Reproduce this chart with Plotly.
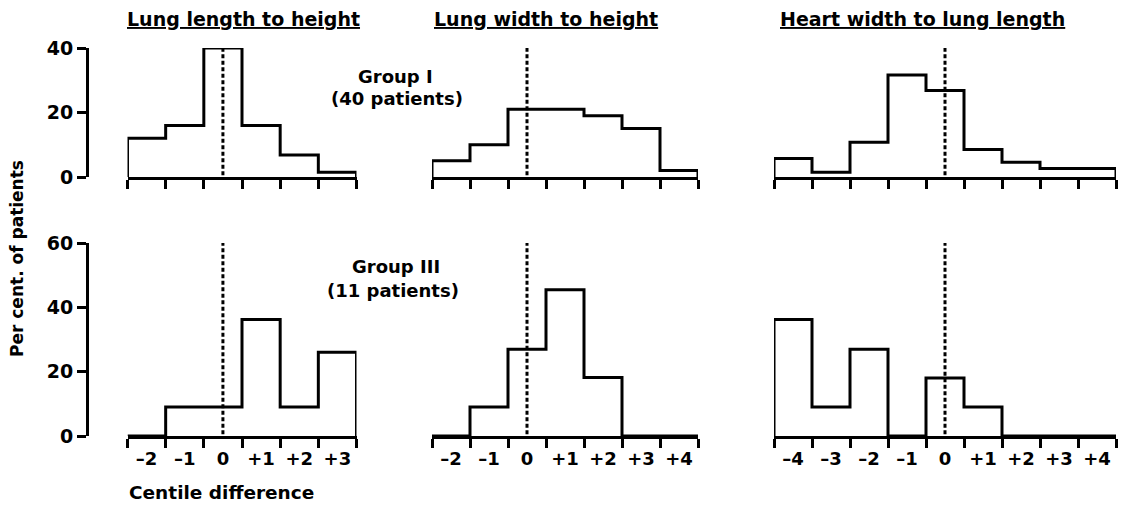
import plotly.graph_objects as go

W, H = 1125, 506

# ---- data (per cent of patients in each centile-difference bin) ----
lung_length_bins = [-2, -1, 0, 1, 2, 3]
lung_width_bins = [-2, -1, 0, 1, 2, 3, 4]
heart_bins = [-4, -3, -2, -1, 0, 1, 2, 3, 4]

g1_lung_length = [12, 16, 40, 16, 6.8, 1.5]
g1_lung_width = [5, 10, 21, 21, 19, 15, 2]
g1_heart = [5.7, 1.5, 10.8, 31.6, 26.8, 8.5, 4.6, 2.6, 2.6]

g3_lung_length = [0, 9, 9, 36.2, 9, 26]
g3_lung_width = [0, 9, 27, 45.5, 18.2, 0, 0]
g3_heart = [36.2, 9, 27, 0, 18, 9, 0, 0, 0]

titles = ["Lung length to height", "Lung width to height", "Heart width to lung length"]
y_ticks_top = [0, 20, 40]
y_ticks_bottom = [0, 20, 40, 60]

FONT = "DejaVu Sans"
BLACK = "black"
LW = 3


def label(v):
    if v == 0:
        return "0"
    return ("+" if v > 0 else "\u2013") + str(abs(v))


def step_xy(bins, vals):
    edges = [b - 0.5 for b in bins] + [bins[-1] + 0.5]
    xs = [edges[0]] + edges
    ys = [0] + list(vals) + [0]
    return xs, ys


panels = [
    (lung_length_bins, g1_lung_length, 0, 0),
    (lung_width_bins, g1_lung_width, 0, 1),
    (heart_bins, g1_heart, 0, 2),
    (lung_length_bins, g3_lung_length, 1, 0),
    (lung_width_bins, g3_lung_width, 1, 1),
    (heart_bins, g3_heart, 1, 2),
]

# pixel geometry
x_dom_px = [(127.5, 356.5), (432, 698), (774, 1116)]
y_dom_px = [(177, 48), (436, 243)]  # (zero-line, top) in px from top
y_top = [40, 60]

fig = go.Figure()
layout = dict(
    width=W, height=H,
    margin=dict(l=0, r=0, t=0, b=0, autoexpand=False),
    paper_bgcolor="white", plot_bgcolor="white",
    showlegend=False,
    font=dict(family=FONT, color=BLACK),
)

for i, (bins, vals, row, col) in enumerate(panels):
    n = i + 1
    xa = "x" if n == 1 else f"x{n}"
    ya = "y" if n == 1 else f"y{n}"
    xs, ys = step_xy(bins, vals)
    fig.add_trace(go.Scatter(
        x=xs, y=ys, mode="lines", line_shape="hv",
        line=dict(color=BLACK, width=LW),
        xaxis=xa, yaxis=ya, cliponaxis=False, hoverinfo="skip",
    ))
    # dotted zero line
    fig.add_trace(go.Scatter(
        x=[0, 0], y=[-3.5, y_top[row]], mode="lines",
        line=dict(color=BLACK, width=3, dash="4px,2.5px"),
        xaxis=xa, yaxis=ya, cliponaxis=False, hoverinfo="skip",
    ))
    edges = [b - 0.5 for b in bins] + [bins[-1] + 0.5]
    x0, x1 = x_dom_px[col]
    yz, yt = y_dom_px[row]
    key_x = "xaxis" if n == 1 else f"xaxis{n}"
    key_y = "yaxis" if n == 1 else f"yaxis{n}"
    layout[key_x] = dict(
        domain=[x0 / W, x1 / W],
        range=[edges[0], edges[-1]],
        anchor=ya, automargin=False,
        showgrid=False, zeroline=False,
        showline=True, linecolor=BLACK, linewidth=LW,
        tickmode="array", tickvals=bins, ticktext=[label(b) for b in bins],
        ticks="", showticklabels=(row == 1), ticklabelstandoff=4,
        tickfont=dict(family=FONT, size=18, color=BLACK, weight="bold"),
        minor=dict(tickmode="array", tickvals=edges, ticks="outside",
                   ticklen=9, tickwidth=LW, tickcolor=BLACK, showgrid=False),
        fixedrange=True,
    )
    ydict = dict(
        domain=[(H - yz) / H, (H - yt) / H],
        range=[0, y_top[row]],
        showgrid=False, zeroline=False, automargin=False,
        fixedrange=True,
    )
    if col == 0:
        ydict.update(
            anchor="free", position=87 / W,
            showline=True, linecolor=BLACK, linewidth=LW,
            tickmode="array",
            tickvals=y_ticks_top if row == 0 else y_ticks_bottom,
            ticks="outside", ticklen=9, tickwidth=LW, tickcolor=BLACK,
            tickfont=dict(family=FONT, size=19, color=BLACK, weight="bold"),
        )
    else:
        ydict.update(anchor=xa, visible=False)
    layout[key_y] = ydict

fig.update_layout(**layout)

annots = []
title_cx = [243, 546, 922]
for t, cx in zip(titles, title_cx):
    annots.append(dict(
        text=f"<b><u>{t}</u></b>", x=cx / W, y=(H - 19) / H,
        xref="paper", yref="paper", showarrow=False,
        font=dict(family=FONT, size=19, color=BLACK),
        xanchor="center", yanchor="middle",
    ))
grp = [
    dict(text="<b>Group I</b>", x=395 / W, y=(H - 76) / H),
    dict(text="<b>(40 patients)</b>", x=397 / W, y=(H - 99) / H),
    dict(text="<b>Group III</b>", x=396 / W, y=(H - 266) / H),
    dict(text="<b>(11 patients)</b>", x=393 / W, y=(H - 290) / H),
]
for a in grp:
    a.update(xref="paper", yref="paper", showarrow=False,
             font=dict(family=FONT, size=18, color=BLACK),
             xanchor="center", yanchor="middle")
annots += grp
annots.append(dict(
    text="<b>Per cent. of patients</b>", x=17 / W, y=(H - 259) / H,
    xref="paper", yref="paper", showarrow=False, textangle=-90,
    font=dict(family=FONT, size=17, color=BLACK),
    xanchor="center", yanchor="middle",
))
annots.append(dict(
    text="<b>Centile difference</b>", x=127 / W, y=(H - 492) / H,
    xref="paper", yref="paper", showarrow=False,
    font=dict(family=FONT, size=18.5, color=BLACK),
    xanchor="left", yanchor="middle",
))
fig.update_layout(annotations=annots)

fig.write_html(
    "out.html",
    config={"displayModeBar": False},
    post_script="document.body.style.margin='0';document.body.style.padding='0';",
)
